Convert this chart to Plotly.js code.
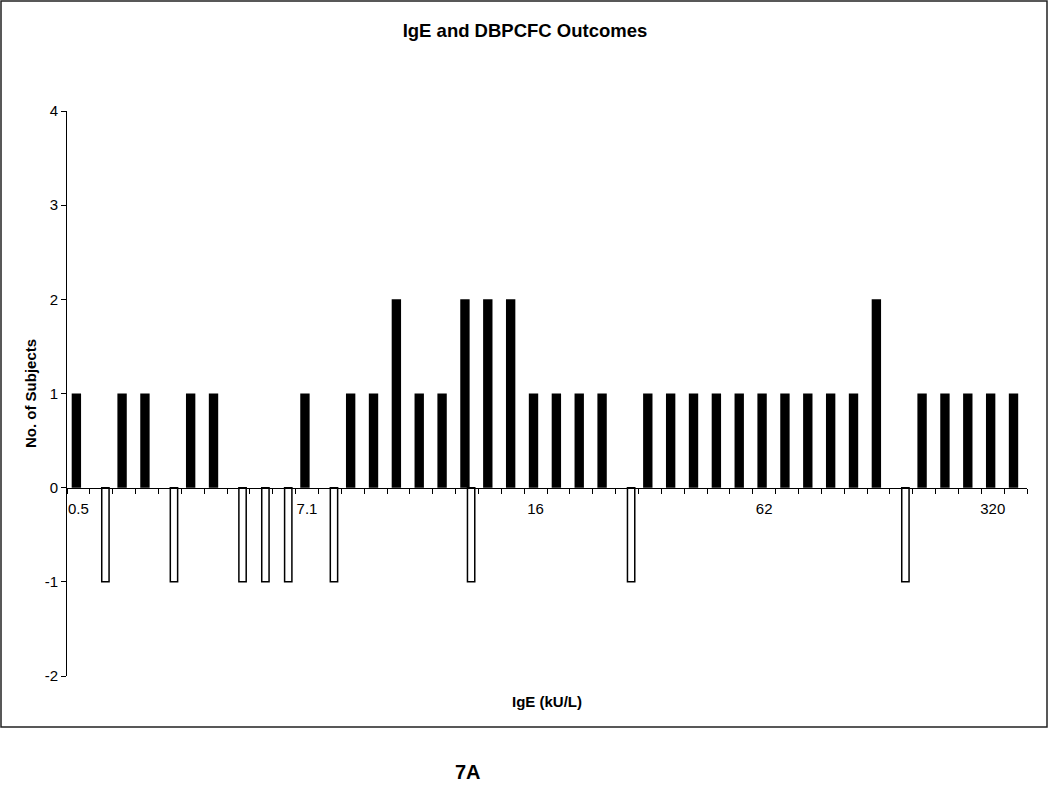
<!DOCTYPE html>
<html>
<head>
<meta charset="utf-8">
<script src="https://cdn.plot.ly/plotly-3.0.1.min.js"></script>
<style>html,body{margin:0;padding:0;background:#fff;}#chart{width:1050px;height:785px;}</style>
</head>
<body>
<div id="chart"></div>
<script>
// IgE bins (category positions along the axis, 42 bins)
const bins = [0,1,2,3,4,5,6,7,8,9,10,11,12,13,14,15,16,17,18,19,20,21,22,23,24,25,26,27,28,29,30,31,32,33,34,35,36,37,38,39,40,41];
// labelled bins and their IgE tick labels
const labelBins = [0, 10, 20, 30, 40];
const labelText = ['0.5', '7.1', '16', '62', '320'];
// y-axis tick values and labels
const yTickVals = [-2, -1, 0, 1, 2, 3, 4];
const yTickText = ['-2', '-1', '0', '1', '2', '3', '4'];
// positive DBPCFC outcomes (no. of subjects), black bars
const positive = [1,null,1,1,null,1,1,null,null,null,1,null,1,1,2,1,1,2,2,2,1,1,1,1,null,1,1,1,1,1,1,1,1,1,1,2,null,1,1,1,1,1];
// negative DBPCFC outcomes (no. of subjects, drawn downward), white bars
const negative = [null,-1,null,null,-1,null,null,-1,-1,-1,null,-1,null,null,null,null,null,-1,null,null,null,null,null,null,-1,null,null,null,null,null,null,null,null,null,null,null,-1,null,null,null,null,null];

const FONT = 'Liberation Sans, Arial, Helvetica, sans-serif';

const traces = [
  {
    type: 'bar', x: bins, y: positive, name: 'Positive',
    offset: -0.295, width: 0.41,
    marker: {color: '#000000', line: {width: 0}},
    hoverinfo: 'skip'
  },
  {
    type: 'bar', x: bins, y: negative, name: 'Negative',
    offset: 0.02, width: 0.32,
    marker: {color: '#ffffff', line: {color: '#000000', width: 1.5}},
    hoverinfo: 'skip'
  }
];

const layout = {
  width: 1050, height: 785,
  margin: {l: 67, r: 23, t: 111, b: 109},
  paper_bgcolor: '#ffffff', plot_bgcolor: '#ffffff',
  font: {family: FONT, color: '#000000', size: 15},
  showlegend: false,
  barmode: 'overlay',
  title: {
    text: '<b>IgE and DBPCFC Outcomes</b>',
    x: 0.5, xref: 'container', xanchor: 'center',
    y: 1 - 31/785, yref: 'container', yanchor: 'middle',
    font: {family: FONT, size: 18.5, color: '#000000'}
  },
  xaxis: {
    range: [-0.5, 41.5],
    anchor: 'free', position: 1/3,
    showline: true, linecolor: '#000000', linewidth: 1,
    zeroline: false, showgrid: false,
    tickmode: 'array', tickvals: labelBins, ticktext: labelText,
    ticks: '', ticklabelstandoff: 7,
    tickfont: {family: FONT, size: 15, color: '#000000'},
    minor: {tick0: 0.5, dtick: 1, ticks: 'outside', ticklen: 5, tickcolor: '#000000', tickwidth: 1, showgrid: false}
  },
  yaxis: {
    range: [-2, 4],
    tickmode: 'array', tickvals: yTickVals, ticktext: yTickText,
    showline: true, linecolor: '#000000', linewidth: 1,
    zeroline: false, showgrid: false,
    ticks: 'outside', ticklen: 5, tickcolor: '#000000',
    tickfont: {family: FONT, size: 15, color: '#000000'},
    title: {text: '<b>No. of Subjects</b>', font: {family: FONT, size: 15, color: '#000000'}, standoff: 4}
  },
  annotations: [
    {text: '<b>IgE (kU/L)</b>', xref: 'paper', yref: 'paper', x: (547-67)/960, y: (676-701)/565,
     xanchor: 'center', yanchor: 'middle', showarrow: false, font: {family: FONT, size: 15, color: '#000000'}},
    {text: '<b>7A</b>', xref: 'paper', yref: 'paper', x: (468-67)/960, y: (676-772)/565,
     xanchor: 'center', yanchor: 'middle', showarrow: false, font: {family: FONT, size: 20, color: '#000000'}}
  ],
  shapes: [
    {type: 'rect', xref: 'paper', yref: 'paper',
     x0: (1-67)/960, x1: (1047-67)/960, y0: (676-727)/565, y1: (676-1)/565,
     line: {color: '#222222', width: 1.5}, fillcolor: 'rgba(0,0,0,0)', layer: 'below'}
  ]
};

Plotly.newPlot('chart', traces, layout, {staticPlot: true, displayModeBar: false});
</script>
</body>
</html>
